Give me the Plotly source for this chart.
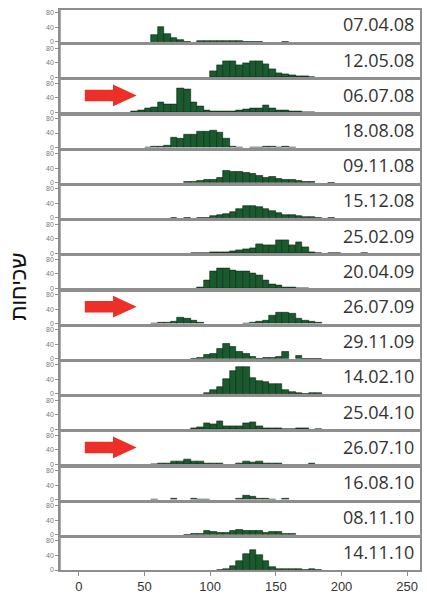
import plotly.graph_objects as go
from plotly.subplots import make_subplots

# ---- data -------------------------------------------------------------
BIN_WIDTH = 5
BINS = list(range(40, 225, 5))  # left edges of histogram bins

DATES = ["07.04.08", "12.05.08", "06.07.08", "18.08.08", "09.11.08", "15.12.08",
         "25.02.09", "20.04.09", "26.07.09", "29.11.09", "14.02.10", "25.04.10",
         "26.07.10", "16.08.10", "08.11.10", "14.11.10"]

C_070408 = [0,0,0,20,40,23,11,5,1,0, 3,3,3,4,4,3,4,1,1,1, 0,0,0,1,0,0,0,0,0,0, 0,0,0,0,0,0,0]
C_120508 = [0,0,0,0,0,0,0,0,0,0, 0,0,17,33,44,44,33,39,44,43, 35,22,12,8,6,4,2,1,0,0, 0,0,0,0,0,0,0]
C_060708 = [3,6,10,15,28,22,22,66,63,28, 17,6,4,4,4,4,5,8,10,12, 18,10,6,6,3,3,1,1,0,0, 0,0,0,0,0,0,0]
C_180808 = [0,0,1,2,4,6,28,26,36,36, 45,45,46,42,25,2,1,0,1,1, 2,2,1,2,1,0,0,0,0,0, 0,0,0,0,0,0,0]
C_091108 = [0,0,0,0,0,0,0,0,2,4, 6,8,8,15,33,30,30,28,24,18, 15,16,12,8,7,5,3,2,0,0, 1,0,0,0,0,0,0]
C_151208 = [0,0,0,0,0,0,1,0,1,0, 1,1,6,7,10,16,25,32,34,30, 24,20,14,9,7,6,4,3,1,0, 1,0,0,0,0,0,0]
C_250209 = [0,0,0,0,0,0,0,0,0,1, 1,1,2,3,4,6,8,11,13,25, 22,22,35,35,22,31,16,4,1,0, 1,1,0,0,0,1,0]
C_200409 = [0,0,0,0,0,0,0,0,0,0, 4,22,46,54,54,50,48,46,40,35, 22,12,8,3,2,1,1,0,0,0, 0,0,0,0,0,0,0]
C_260709 = [0,0,0,1,2,3,6,16,14,8, 4,0,0,0,0,0,0,1,2,5, 8,23,29,31,28,14,9,6,3,0, 0,0,0,0,0,0,0]
C_291109 = [0,0,0,0,0,0,0,0,0,1, 2,12,15,27,41,33,19,14,6,1, 3,4,5,18,0,7,1,1,1,0, 0,0,0,0,0,0,0]
C_140210 = [0,0,0,0,0,0,0,0,0,0, 0,4,12,20,42,62,74,75,45,37, 33,28,27,10,6,3,1,2,2,0, 0,0,0,0,0,0,0]
C_250410 = [0,0,0,0,0,0,0,0,0,2, 5,16,14,23,9,7,7,16,18,9, 3,3,2,1,1,2,2,0,1,0, 0,0,0,0,0,0,0]
C_260710 = [0,0,0,1,2,2,8,8,13,8, 8,2,2,2,0,0,4,9,5,7, 4,2,2,0,0,0,0,3,0,0, 0,0,0,0,0,0,0]
C_160810 = [0,0,0,1,0,0,2,0,0,4, 1,1,0,0,0,0,4,10,7,2, 3,1,0,2,0,0,0,0,0,0, 0,0,0,0,0,0,0]
C_081110 = [0,0,0,0,0,0,0,0,1,2, 2,11,8,5,6,11,13,11,11,10, 6,8,7,4,2,0,0,0,0,0, 0,0,0,0,0,0,0]
C_141110 = [0,0,0,0,0,0,0,0,0,0, 0,0,0,1,4,11,24,43,54,41, 24,8,3,3,4,2,1,2,1,0, 0,0,0,0,0,0,0]

COUNTS = [C_070408, C_120508, C_060708, C_180808, C_091108, C_151208, C_250209, C_200409,
          C_260709, C_291109, C_140210, C_250410, C_260710, C_160810, C_081110, C_141110]

ARROW_DATES = ["06.07.08", "26.07.09", "26.07.10"]
X_TICKS = [0, 50, 100, 150, 200, 250]
Y_TICKS = [0, 40, 80]
Y_TITLE = "שכיחות"

# ---- figure -----------------------------------------------------------
N = len(DATES)
fig = make_subplots(rows=N, cols=1, shared_xaxes=True, vertical_spacing=0.0058)

centers = [b + BIN_WIDTH / 2 for b in BINS]
FRAME = "#8e8e8e"
for i, (d, c) in enumerate(zip(DATES, COUNTS), start=1):
    yvals = [v if v > 0 else None for v in c]  # empty bins draw nothing
    fig.add_trace(go.Bar(x=centers, y=yvals, width=BIN_WIDTH,
                         marker=dict(color="#1a5b2e", line=dict(color="#0a2410", width=0.6)),
                         showlegend=False, hoverinfo="skip"), row=i, col=1)
    fig.update_yaxes(row=i, col=1, range=[0, 88], tickvals=Y_TICKS, ticks="outside",
                     ticklen=3, tickcolor=FRAME, tickfont=dict(size=7, color="#777", family="Liberation Sans"),
                     showgrid=False, zeroline=False, showline=True, mirror=True,
                     linecolor=FRAME, linewidth=1.5, fixedrange=True)
    fig.update_xaxes(row=i, col=1, range=[-14.4, 259.8], showgrid=False, zeroline=False,
                     showline=True, mirror=True, linecolor=FRAME, linewidth=1.5,
                     tickvals=X_TICKS, ticks="outside" if i == N else "", ticklen=4, tickcolor=FRAME,
                     showticklabels=(i == N),
                     tickfont=dict(size=13, color="#333", family="Liberation Sans"))
    sfx = "" if i == 1 else str(i)
    fig.add_annotation(xref=f"x{sfx} domain", yref=f"y{sfx} domain", x=0.989, y=0.55,
                       xanchor="right", yanchor="middle", text=d, showarrow=False,
                       font=dict(size=18, color="#333", family="Open Sans"))
    if d in ARROW_DATES:
        x0, xm, x1 = 4.5, 26, 44
        bh, hh, yc = 0.18, 0.34, 0.53
        path = (f"M {x0},{yc-bh} L {xm},{yc-bh} L {xm},{yc-hh} L {x1},{yc} "
                f"L {xm},{yc+hh} L {xm},{yc+bh} L {x0},{yc+bh} Z")
        fig.add_shape(type="path", path=path, xref=f"x{sfx}", yref=f"y{sfx} domain",
                      fillcolor="#ec2f27", line=dict(width=0))

# continuous left spine
fig.add_shape(type="line", xref="paper", yref="paper", x0=0, x1=0, y0=0, y1=1,
              line=dict(color=FRAME, width=1.5))

fig.add_annotation(xref="paper", yref="paper", x=-0.115, y=0.505, text=Y_TITLE,
                   textangle=-90, showarrow=False, xanchor="center", yanchor="middle",
                   font=dict(size=22, color="#111", family="Liberation Sans"))

fig.update_layout(width=427, height=599, margin=dict(l=60, r=5, t=10, b=24),
                  paper_bgcolor="white", plot_bgcolor="white", bargap=0)

fig.write_html("out.html")
